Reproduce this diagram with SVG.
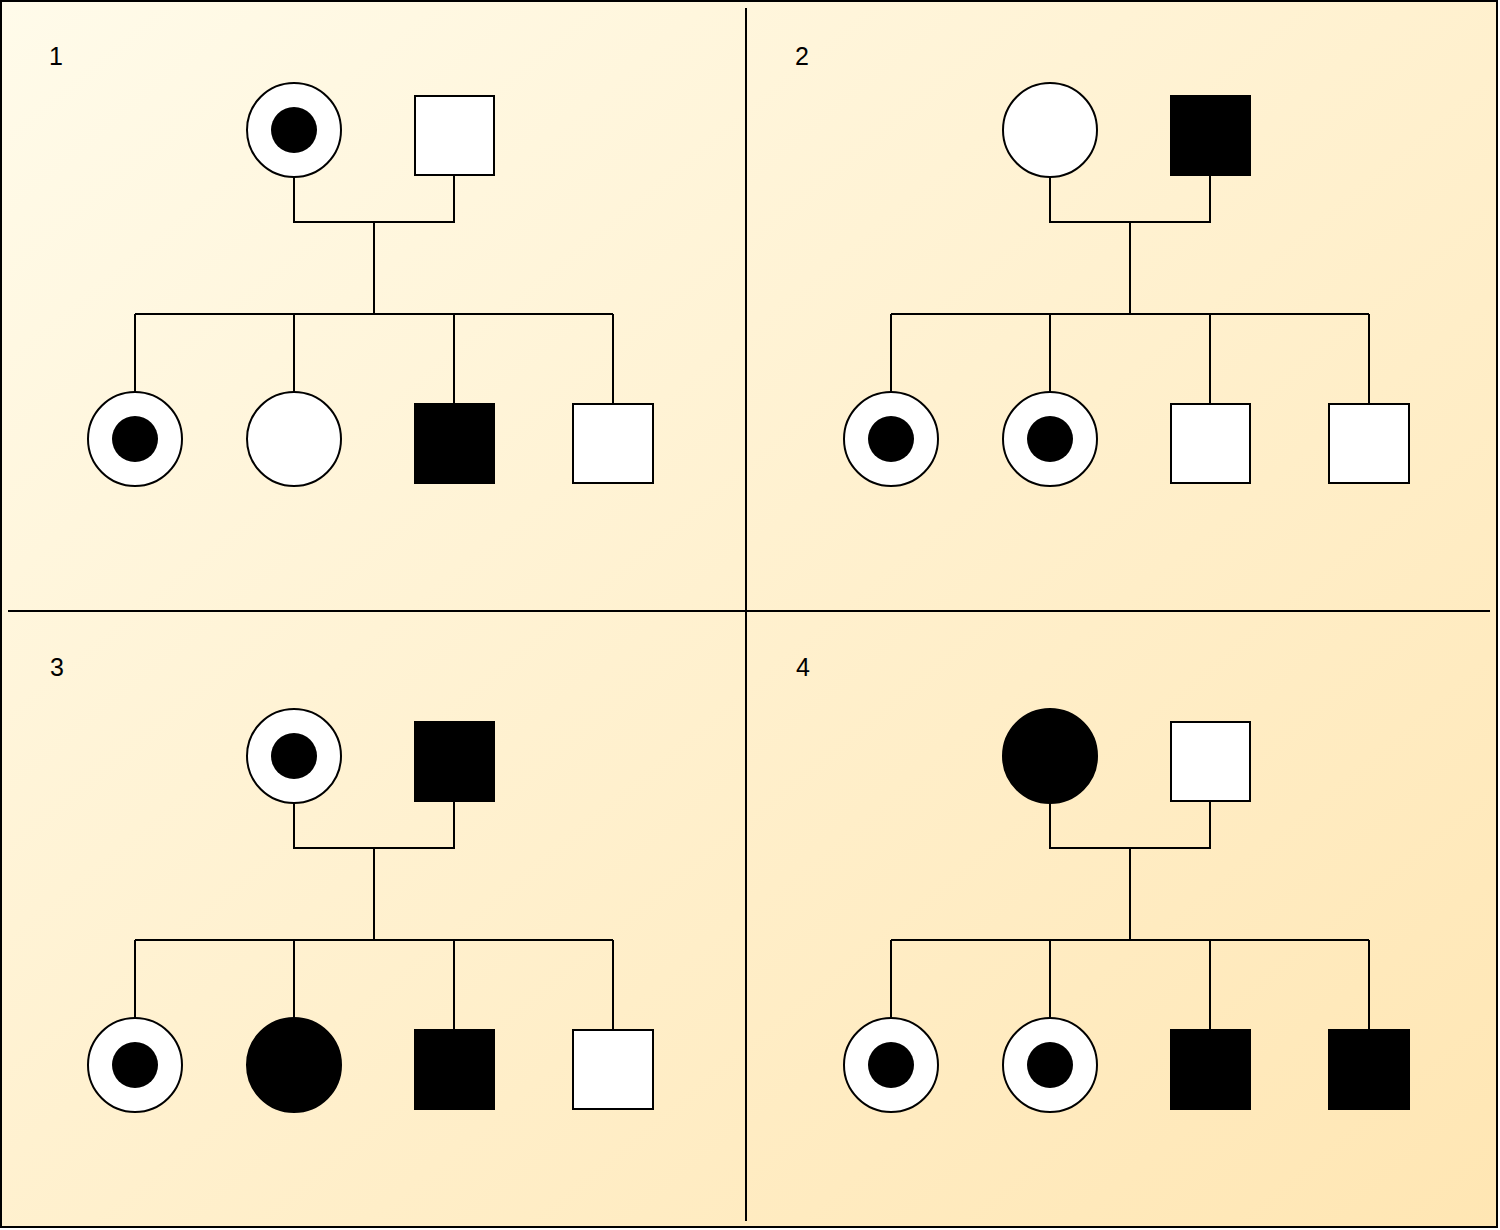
<svg xmlns="http://www.w3.org/2000/svg" width="1500" height="1230" viewBox="0 0 1500 1230">
<defs>
<linearGradient id="bg" x1="0" y1="0" x2="1" y2="1">
<stop offset="0" stop-color="#fffbea"/>
<stop offset="1" stop-color="#ffe6b3"/>
</linearGradient>
</defs>
<style>
.ln{fill:none;stroke:#000;stroke-width:2}
.w{fill:#fff;stroke:#000;stroke-width:2}
.b{fill:#000;stroke:#000;stroke-width:2}
.dot{fill:#000}
.lbl{font-family:"Liberation Sans",Arial,sans-serif;font-size:25px;fill:#000}
</style>
<rect x="1" y="1" width="1496" height="1226" fill="url(#bg)" stroke="#000" stroke-width="2"/>
<g id="dividers" class="ln">
<line x1="746" y1="8" x2="746" y2="1221"/>
<line x1="8" y1="611" x2="1490" y2="611"/>
</g>
<g id="labels">
<text class="lbl" x="49" y="65">1</text>
<text class="lbl" x="795" y="65">2</text>
<text class="lbl" x="50" y="676">3</text>
<text class="lbl" x="796" y="676">4</text>
</g>
<g id="connectors" class="ln">
<path d="M294 177V222H454V175M374 222V314M135 314H613M135 314V392M294 314V392M454 314V404M613 314V404"/>
<path d="M1050 177V222H1210V175M1130 222V314M891 314H1369M891 314V392M1050 314V392M1210 314V404M1369 314V404"/>
<path d="M294 803V848H454V801M374 848V940M135 940H613M135 940V1018M294 940V1018M454 940V1030M613 940V1030"/>
<path d="M1050 803V848H1210V801M1130 848V940M891 940H1369M891 940V1018M1050 940V1018M1210 940V1030M1369 940V1030"/>
</g>
<!-- Panel 1 -->
<g id="p1-mother"><circle class="w" cx="294" cy="130" r="47"/><circle class="dot" cx="294" cy="130" r="23"/></g>
<g id="p1-father"><rect class="w" x="415" y="96" width="79" height="79"/></g>
<g id="p1-c1"><circle class="w" cx="135" cy="439" r="47"/><circle class="dot" cx="135" cy="439" r="23"/></g>
<g id="p1-c2"><circle class="w" cx="294" cy="439" r="47"/></g>
<g id="p1-c3"><rect class="b" x="415" y="404" width="79" height="79"/></g>
<g id="p1-c4"><rect class="w" x="573" y="404" width="80" height="79"/></g>
<!-- Panel 2 -->
<g id="p2-mother"><circle class="w" cx="1050" cy="130" r="47"/></g>
<g id="p2-father"><rect class="b" x="1171" y="96" width="79" height="79"/></g>
<g id="p2-c1"><circle class="w" cx="891" cy="439" r="47"/><circle class="dot" cx="891" cy="439" r="23"/></g>
<g id="p2-c2"><circle class="w" cx="1050" cy="439" r="47"/><circle class="dot" cx="1050" cy="439" r="23"/></g>
<g id="p2-c3"><rect class="w" x="1171" y="404" width="79" height="79"/></g>
<g id="p2-c4"><rect class="w" x="1329" y="404" width="80" height="79"/></g>
<!-- Panel 3 -->
<g id="p3-mother"><circle class="w" cx="294" cy="756" r="47"/><circle class="dot" cx="294" cy="756" r="23"/></g>
<g id="p3-father"><rect class="b" x="415" y="722" width="79" height="79"/></g>
<g id="p3-c1"><circle class="w" cx="135" cy="1065" r="47"/><circle class="dot" cx="135" cy="1065" r="23"/></g>
<g id="p3-c2"><circle class="b" cx="294" cy="1065" r="47"/></g>
<g id="p3-c3"><rect class="b" x="415" y="1030" width="79" height="79"/></g>
<g id="p3-c4"><rect class="w" x="573" y="1030" width="80" height="79"/></g>
<!-- Panel 4 -->
<g id="p4-mother"><circle class="b" cx="1050" cy="756" r="47"/></g>
<g id="p4-father"><rect class="w" x="1171" y="722" width="79" height="79"/></g>
<g id="p4-c1"><circle class="w" cx="891" cy="1065" r="47"/><circle class="dot" cx="891" cy="1065" r="23"/></g>
<g id="p4-c2"><circle class="w" cx="1050" cy="1065" r="47"/><circle class="dot" cx="1050" cy="1065" r="23"/></g>
<g id="p4-c3"><rect class="b" x="1171" y="1030" width="79" height="79"/></g>
<g id="p4-c4"><rect class="b" x="1329" y="1030" width="80" height="79"/></g>
</svg>
